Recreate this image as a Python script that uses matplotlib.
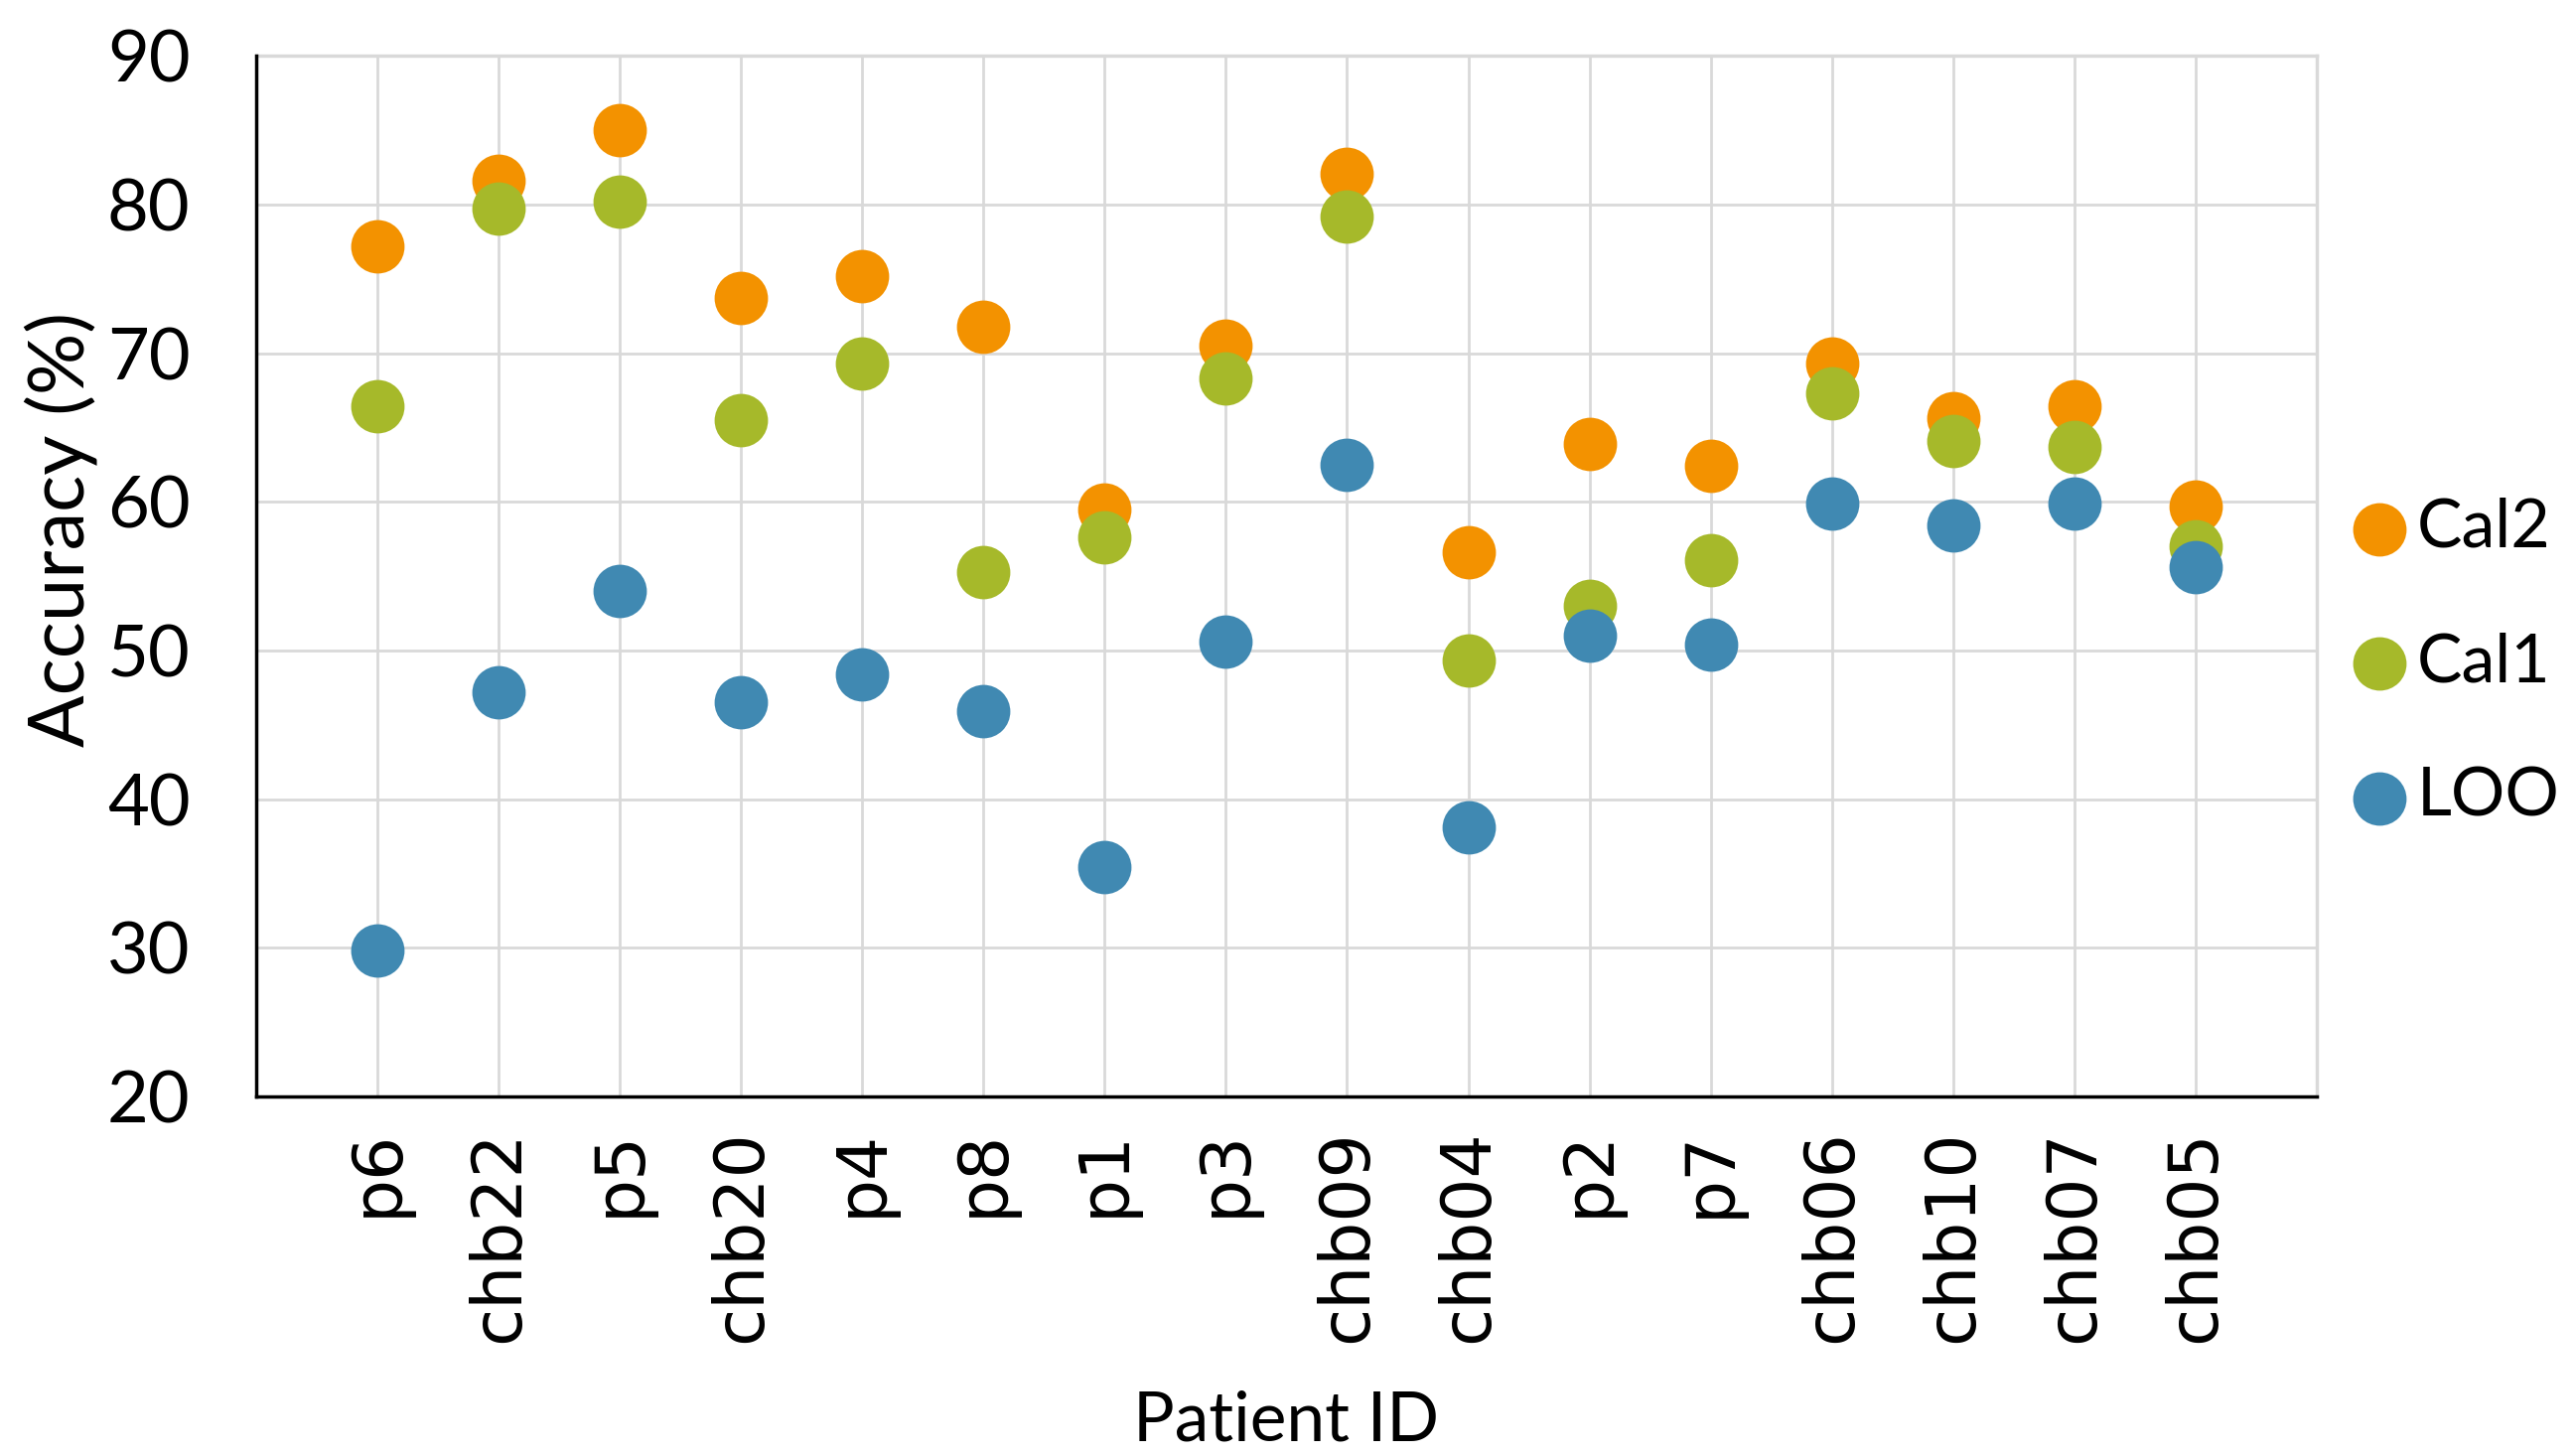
import matplotlib
matplotlib.use("Agg")
import matplotlib.pyplot as plt
import numpy as np

patients = ["p6", "chb22", "p5", "chb20", "p4", "p8", "p1", "p3", "chb09",
            "chb04", "p2", "p7", "chb06", "chb10", "chb07", "chb05"]
cal2 = [77.2, 81.6, 85.0, 73.7, 75.2, 71.8, 59.5, 70.5, 82.1, 56.6, 63.9, 62.4, 69.3, 65.6, 66.4, 59.7]
cal1 = [66.4, 79.7, 80.2, 65.5, 69.3, 55.3, 57.6, 68.3, 79.2, 49.3, 53.0, 56.1, 67.3, 64.1, 63.7, 57.0]
loo = [29.8, 47.2, 54.0, 46.5, 48.4, 45.9, 35.4, 50.6, 62.5, 38.1, 51.0, 50.4, 59.9, 58.4, 59.9, 55.6]
yticks = [20, 30, 40, 50, 60, 70, 80, 90]

c_cal2 = "#F39200"
c_cal1 = "#A6B92A"
c_loo = "#4089B2"

fig = plt.figure(figsize=(25.94, 14.66), dpi=100)
ax = fig.add_axes([0.0995, 0.247, 0.7998, 0.7146])

x = np.arange(len(patients))
ms = 1500
h2 = ax.scatter(x, cal2, s=ms, color=c_cal2, zorder=3, label="Cal2", linewidths=0)
h1 = ax.scatter(x, cal1, s=ms, color=c_cal1, zorder=4, label="Cal1", linewidths=0)
h0 = ax.scatter(x, loo, s=ms, color=c_loo, zorder=5, label="LOO", linewidths=0)

ax.set_xlim(-1, len(patients))
ax.set_ylim(20, 90)
ax.set_yticks(yticks)
ax.set_yticklabels([str(v) for v in yticks], fontfamily="Lato", fontsize=52)
ax.set_xticks(x)
ax.set_xticklabels(patients, rotation=90, fontfamily="DejaVu Sans", fontsize=50, va="top")
ax.tick_params(axis="both", length=0)
ax.tick_params(axis="y", pad=48)
ax.tick_params(axis="x", pad=24)

ax.grid(True, which="major", color="#D9D9D9", linewidth=2, zorder=0)
ax.set_axisbelow(True)

for s in ["left", "bottom"]:
    ax.spines[s].set_color("black")
    ax.spines[s].set_linewidth(2.5)
    ax.spines[s].set_zorder(6)
for s in ["top", "right"]:
    ax.spines[s].set_color("#D9D9D9")
    ax.spines[s].set_linewidth(2.5)

ax.set_ylabel("Accuracy (%)", fontfamily="Lato", fontsize=56)
ax.yaxis.set_label_coords(-0.077, 0.545)
ax.set_xlabel("Patient ID", fontfamily="Lato", fontsize=50, labelpad=34)

leg = fig.legend(handles=[h2, h1, h0], labels=["Cal2", "Cal1", "LOO"],
                 loc="center left", bbox_to_anchor=(0.9, 0.545),
                 frameon=False, prop={"family": "Lato", "size": 49},
                 handletextpad=0.05, labelspacing=1.08, markerscale=1.0,
                 handlelength=1.0, borderaxespad=0.0)

fig.savefig("out.png", dpi=100)
